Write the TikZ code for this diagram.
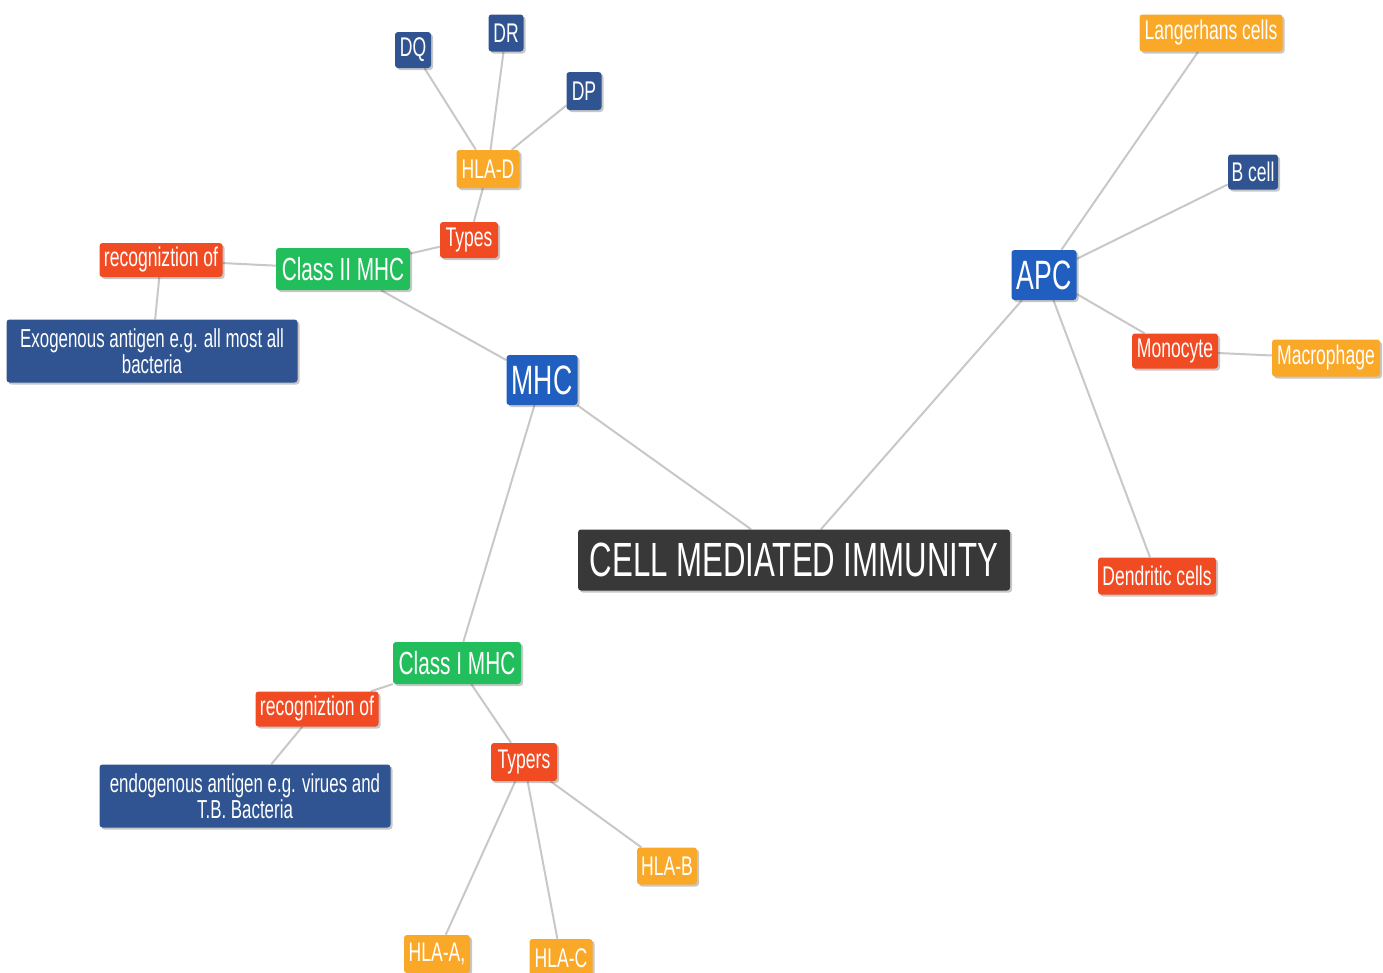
\documentclass[tikz,border=0pt]{standalone}
\usepackage{fontspec}
\setmainfont{Liberation Sans}[FakeStretch=0.65]
\usetikzlibrary{backgrounds,shadows}
\definecolor{cdark}{RGB}{56,56,56}
\definecolor{cblue}{RGB}{32,94,192}
\definecolor{cnavy}{RGB}{47,84,145}
\definecolor{cgreen}{RGB}{34,190,92}
\definecolor{cred}{RGB}{240,75,35}
\definecolor{corange}{RGB}{250,168,40}
\definecolor{cline}{RGB}{200,200,200}
\tikzset{
  box/.style={rounded corners=3pt, inner sep=0pt, text=white, align=center,
    drop shadow={shadow xshift=2pt, shadow yshift=-2pt, opacity=0.22, fill=black}},
  sz/.style 2 args={minimum width=#1pt, minimum height=#2pt},
  smallfont/.style={font=\fontsize{27}{29}\selectfont},
  redbox/.style={box, fill=cred, smallfont},
  orbox/.style={box, fill=corange, smallfont},
  navybox/.style={box, fill=cnavy, smallfont},
  longbox/.style={box, fill=cnavy, font=\fontsize{26}{26}\selectfont},
  greenbox/.style={box, fill=cgreen, font=\fontsize{32}{34}\selectfont},
  bluebox/.style={box, fill=cblue, font=\fontsize{41}{43}\selectfont},
  rootbox/.style={box, fill=cdark, font=\fontsize{48}{50}\selectfont},
  link/.style={draw=cline, line width=2pt}
}
\begin{document}
\begin{tikzpicture}[x=1pt,y=-1pt]
\useasboundingbox (0,0) rectangle (1383,972);
% root and hubs
\node[rootbox, sz={432}{61}] (cmi) at (794,560) {CELL MEDIATED IMMUNITY};
\node[bluebox, sz={71}{50}] (mhc) at (542,380) {MHC};
\node[bluebox, sz={65}{50}] (apc) at (1044,275) {APC};
% class II branch
\node[greenbox, sz={134}{42}] (c2) at (343,269) {Class II MHC};
\node[redbox, sz={123}{34}] (rec1) at (161,260) {recogniztion of};
\node[longbox, sz={291}{63}] (exo) at (152,351) {Exogenous antigen e.g. all most all\\bacteria};
\node[redbox, sz={58}{36}] (types) at (469,240) {Types};
\node[orbox, sz={63}{38}] (hlad) at (488,169) {HLA-D};
\node[navybox, sz={36}{36}] (dq) at (413,50) {DQ};
\node[navybox, sz={35}{37}] (dr) at (506,33) {DR};
\node[navybox, sz={35}{38}] (dp) at (584,91) {DP};
% APC branch
\node[orbox, sz={143}{37}] (lang) at (1211,33) {Langerhans cells};
\node[navybox, sz={50}{35}] (bcell) at (1253,172) {B cell};
\node[redbox, sz={86}{35}] (mono) at (1175,351) {Monocyte};
\node[orbox, sz={108}{37}] (macro) at (1326,358) {Macrophage};
\node[redbox, sz={118}{37}] (dend) at (1157,576) {Dendritic cells};
% class I branch
\node[greenbox, sz={128}{42}] (c1) at (457,663) {Class I MHC};
\node[redbox, sz={123}{35}] (rec2) at (317,709) {recogniztion of};
\node[longbox, sz={291}{63}] (endo) at (245,796) {endogenous antigen e.g. virues and\\T.B. Bacteria};
\node[redbox, sz={66}{38}] (typers) at (524,762) {Typers};
\node[orbox, sz={60}{37}] (hlab) at (667,866) {HLA-B};
\node[orbox, sz={66}{38}] (hlaa) at (437,954) {HLA-A,};
\node[orbox, sz={63}{38}] (hlac) at (561,958) {HLA-C};
% connectors
\begin{scope}[on background layer]
\draw[link] (cmi) -- (mhc);
\draw[link] (cmi) -- (apc);
\draw[link] (mhc) -- (c2);
\draw[link] (mhc) -- (c1);
\draw[link] (c2) -- (rec1);
\draw[link] (rec1) -- (exo);
\draw[link] (c2) -- (types);
\draw[link] (types) -- (hlad);
\draw[link] (hlad) -- (dq);
\draw[link] (hlad) -- (dr);
\draw[link] (hlad) -- (dp);
\draw[link] (apc) -- (lang);
\draw[link] (apc) -- (bcell);
\draw[link] (apc) -- (mono);
\draw[link] (mono) -- (macro);
\draw[link] (apc) -- (dend);
\draw[link] (c1) -- (rec2);
\draw[link] (rec2) -- (endo);
\draw[link] (c1) -- (typers);
\draw[link] (typers) -- (hlab);
\draw[link] (typers) -- (hlaa);
\draw[link] (typers) -- (hlac);
\end{scope}
\end{tikzpicture}
\end{document}
